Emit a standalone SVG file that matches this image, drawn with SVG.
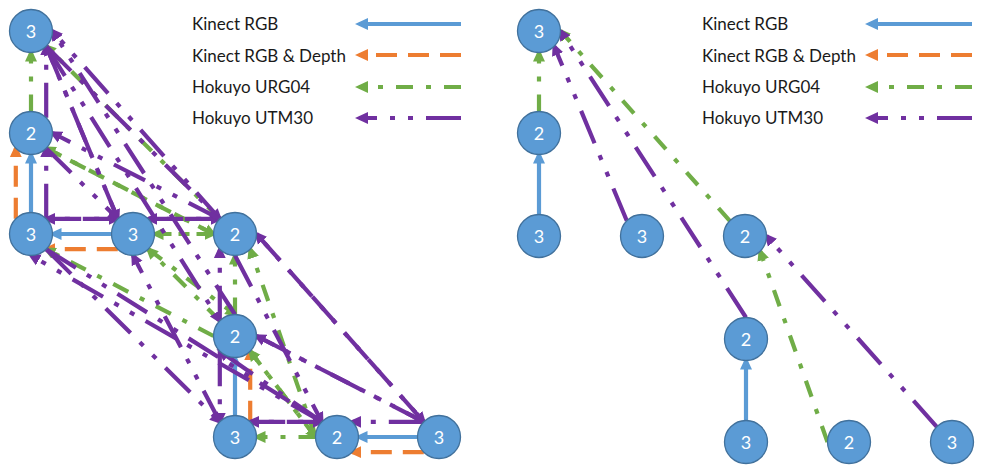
<svg xmlns="http://www.w3.org/2000/svg" width="981" height="466" viewBox="0 0 981 466">
<defs>
<style>
.c line{stroke-width:4.2;fill:none}
.k{stroke:#5B9BD5;marker-end:url(#ak)}
.kd{stroke:#ED7D31;stroke-dasharray:21 11;marker-end:url(#akd)}
.u{stroke:#70AD47;stroke-dasharray:17 13 5 13;marker-end:url(#au)}
.m{stroke:#7030A0;stroke-dasharray:35 13 5 13 5 13;marker-end:url(#am)}
.n circle{fill:#5B9BD5;stroke:#41719C;stroke-width:1.3}
.n text{fill:#fff;font-family:Lato,"Liberation Sans",Arial,sans-serif;font-size:18px;text-anchor:middle}
.lg text{fill:#1a1a1a;font-family:Lato,"Liberation Sans",Arial,sans-serif;font-size:17px}
</style>
<marker id="ak" markerUnits="userSpaceOnUse" viewBox="0 0 13 13" markerWidth="13" markerHeight="13" refX="9" refY="6.5" orient="auto"><path d="M0,0.5 L13,6.5 L0,12.5 z" fill="#5B9BD5"/></marker>
<marker id="akd" markerUnits="userSpaceOnUse" viewBox="0 0 13 13" markerWidth="13" markerHeight="13" refX="9" refY="6.5" orient="auto"><path d="M0,0.5 L13,6.5 L0,12.5 z" fill="#ED7D31"/></marker>
<marker id="au" markerUnits="userSpaceOnUse" viewBox="0 0 13 13" markerWidth="13" markerHeight="13" refX="9" refY="6.5" orient="auto"><path d="M0,0.5 L13,6.5 L0,12.5 z" fill="#70AD47"/></marker>
<marker id="am" markerUnits="userSpaceOnUse" viewBox="0 0 13 13" markerWidth="13" markerHeight="13" refX="9" refY="6.5" orient="auto"><path d="M0,0.5 L13,6.5 L0,12.5 z" fill="#7030A0"/></marker>
</defs>
<rect width="981" height="466" fill="#fff"/>

<g id="legend-left" class="lg">
<text x="192" y="30">Kinect RGB</text>
<text x="192" y="62">Kinect RGB &amp; Depth</text>
<text x="192" y="93">Hokuyo URG04</text>
<text x="192" y="124">Hokuyo UTM30</text>
</g>
<g id="legend-right" class="lg">
<text x="702" y="30">Kinect RGB</text>
<text x="702" y="62">Kinect RGB &amp; Depth</text>
<text x="702" y="93">Hokuyo URG04</text>
<text x="702" y="124">Hokuyo UTM30</text>
</g>

<g id="connectors" class="c">
<!-- legend samples -->
<line class="k" x1="461" y1="24" x2="359" y2="24"/>
<line class="kd" x1="461" y1="55" x2="359" y2="55"/>
<line class="u" x1="461" y1="87" x2="359" y2="87"/>
<line class="m" x1="461" y1="118" x2="359" y2="118"/>
<line class="k" x1="972" y1="24" x2="869" y2="24"/>
<line class="kd" x1="972" y1="55" x2="869" y2="55"/>
<line class="u" x1="972" y1="87" x2="869" y2="87"/>
<line class="m" x1="972" y1="118" x2="869" y2="118"/>

<!-- left graph: Kinect RGB -->
<line class="k" x1="31" y1="212.5" x2="31" y2="154.5"/>
<line class="k" x1="111.5" y1="234" x2="52.5" y2="234"/>
<line class="k" x1="235" y1="415.5" x2="235" y2="357.5"/>
<line class="k" x1="417.5" y1="437" x2="358.5" y2="437"/>
<!-- Kinect RGB & Depth -->
<line class="kd" x1="15.8" y1="218.8" x2="15.8" y2="148.2"/>
<line class="kd" x1="117.8" y1="249.2" x2="46.2" y2="249.2"/>
<line class="kd" x1="250.2" y1="421.8" x2="250.2" y2="351.2"/>
<line class="kd" x1="423.8" y1="452.2" x2="352.2" y2="452.2"/>
<!-- URG04 -->
<line class="u" x1="31" y1="111.5" x2="31" y2="52.5"/>
<line class="u" x1="219.8" y1="218.8" x2="46.2" y2="46.2"/>
<line class="u" x1="213.5" y1="234" x2="46.2" y2="148.2"/>
<line class="u" x1="46.2" y1="148.2" x2="213.5" y2="234"/>
<line class="u" x1="213.5" y1="336" x2="46.2" y2="249.2"/>
<line class="u" x1="213.5" y1="234" x2="154.5" y2="234"/>
<line class="u" x1="154.5" y1="234" x2="213.5" y2="234"/>
<line class="u" x1="219.8" y1="320.8" x2="148.2" y2="249.2"/>
<line class="u" x1="148.2" y1="249.2" x2="235" y2="314.5"/>
<line class="u" x1="235" y1="314.5" x2="235" y2="255.5"/>
<line class="u" x1="315.5" y1="437" x2="250.2" y2="249.2"/>
<line class="u" x1="315.5" y1="437" x2="250.2" y2="351.2"/>
<line class="u" x1="250.2" y1="351.2" x2="315.5" y2="437"/>
<line class="u" x1="315.5" y1="437" x2="256.5" y2="437"/>
<!-- UTM30 -->
<line class="m" x1="46.2" y1="117.8" x2="46.2" y2="46.2"/>
<line class="m" x1="46.2" y1="218.8" x2="46.2" y2="148.2"/>
<line class="m" x1="117.8" y1="218.8" x2="46.2" y2="218.8"/>
<line class="m" x1="46.2" y1="218.8" x2="117.8" y2="218.8"/>
<line class="m" x1="219.8" y1="218.8" x2="148.2" y2="218.8"/>
<line class="m" x1="148.2" y1="218.8" x2="219.8" y2="218.8"/>
<line class="m" x1="219.8" y1="320.8" x2="219.8" y2="249.2"/>
<line class="m" x1="423.8" y1="421.8" x2="256.5" y2="234"/>
<line class="m" x1="256.5" y1="234" x2="423.8" y2="421.8"/>
<line class="m" x1="117.8" y1="218.8" x2="46.2" y2="46.2"/>
<line class="m" x1="46.2" y1="46.2" x2="117.8" y2="218.8"/>
<line class="m" x1="235" y1="314.5" x2="52.5" y2="31"/>
<line class="m" x1="46.2" y1="46.2" x2="219.8" y2="320.8"/>
<line class="m" x1="46.2" y1="46.2" x2="219.8" y2="218.8"/>
<line class="m" x1="219.8" y1="218.8" x2="52.5" y2="31"/>
<line class="m" x1="321.8" y1="421.8" x2="250.2" y2="421.8"/>
<line class="m" x1="250.2" y1="421.8" x2="321.8" y2="421.8"/>
<line class="m" x1="423.8" y1="421.8" x2="352.2" y2="421.8"/>
<line class="m" x1="321.8" y1="421.8" x2="219.8" y2="351.2"/>
<line class="m" x1="46.2" y1="249.2" x2="321.8" y2="421.8"/>
<line class="m" x1="321.8" y1="421.8" x2="31" y2="255.5"/>
<line class="m" x1="235" y1="255.5" x2="321.8" y2="421.8"/>
<line class="m" x1="219.8" y1="351.2" x2="219.8" y2="421.8"/>
<line class="m" x1="46.2" y1="249.2" x2="219.8" y2="421.8"/>
<line class="m" x1="46.2" y1="148.2" x2="117.8" y2="218.8"/>
<line class="m" x1="219.8" y1="218.8" x2="52.5" y2="133"/>
<line class="m" x1="219.8" y1="421.8" x2="133" y2="255.5"/>
<line class="m" x1="423.8" y1="421.8" x2="256.5" y2="336"/>
<line class="m" x1="256.5" y1="336" x2="423.8" y2="421.8"/>

<!-- right graph -->
<line class="k" x1="746" y1="420.5" x2="746" y2="360.5"/>
<line class="k" x1="539" y1="214.5" x2="539" y2="154.5"/>
<line class="u" x1="539" y1="111.5" x2="539" y2="52.5"/>
<line class="u" x1="729.8" y1="220.8" x2="560.5" y2="31"/>
<line class="u" x1="827.5" y1="442" x2="760.2" y2="251.2"/>
<line class="m" x1="626.8" y1="220.8" x2="554.2" y2="46.2"/>
<line class="m" x1="746" y1="317.5" x2="560.5" y2="31"/>
<line class="m" x1="936.8" y1="426.8" x2="766.5" y2="236"/>
</g>

<g id="nA" class="n"><circle cx="31" cy="31" r="21.5"/><text x="31" y="37.5">3</text></g>
<g id="nB" class="n"><circle cx="31" cy="133" r="21.5"/><text x="31" y="139.5">2</text></g>
<g id="nC" class="n"><circle cx="31" cy="234" r="21.5"/><text x="31" y="240.5">3</text></g>
<g id="nD" class="n"><circle cx="133" cy="234" r="21.5"/><text x="133" y="240.5">3</text></g>
<g id="nE" class="n"><circle cx="235" cy="234" r="21.5"/><text x="235" y="240.5">2</text></g>
<g id="nF" class="n"><circle cx="235" cy="336" r="21.5"/><text x="235" y="342.5">2</text></g>
<g id="nG" class="n"><circle cx="235" cy="437" r="21.5"/><text x="235" y="443.5">3</text></g>
<g id="nH" class="n"><circle cx="337" cy="437" r="21.5"/><text x="337" y="443.5">2</text></g>
<g id="nI" class="n"><circle cx="439" cy="437" r="21.5"/><text x="439" y="443.5">3</text></g>

<g id="rA" class="n"><circle cx="539" cy="31" r="21.5"/><text x="539" y="37.5">3</text></g>
<g id="rB" class="n"><circle cx="539" cy="133" r="21.5"/><text x="539" y="139.5">2</text></g>
<g id="rC" class="n"><circle cx="539" cy="236" r="21.5"/><text x="539" y="242.5">3</text></g>
<g id="rD" class="n"><circle cx="642" cy="236" r="21.5"/><text x="642" y="242.5">3</text></g>
<g id="rE" class="n"><circle cx="745" cy="236" r="21.5"/><text x="745" y="242.5">2</text></g>
<g id="rF" class="n"><circle cx="746" cy="339" r="21.5"/><text x="746" y="345.5">2</text></g>
<g id="rG" class="n"><circle cx="746" cy="442" r="21.5"/><text x="746" y="448.5">3</text></g>
<g id="rH" class="n"><circle cx="849" cy="442" r="21.5"/><text x="849" y="448.5">2</text></g>
<g id="rI" class="n"><circle cx="952" cy="442" r="21.5"/><text x="952" y="448.5">3</text></g>
</svg>
